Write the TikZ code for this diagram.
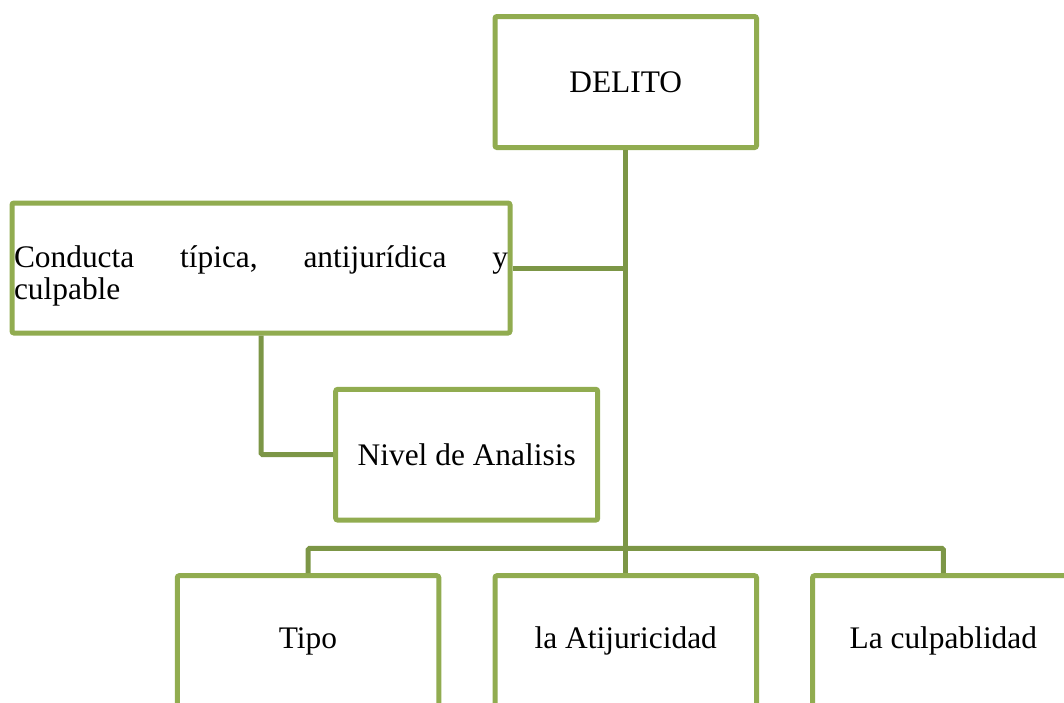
\documentclass[tikz,border=0pt]{standalone}
\usepackage{fontspec}
\setmainfont{Liberation Serif}
\usetikzlibrary{positioning}
\definecolor{boxgreen}{RGB}{145,172,80}
\definecolor{linkgreen}{RGB}{124,150,70}

\begin{document}
\begin{tikzpicture}[x=1pt,y=-1pt,
    box/.style={draw=boxgreen, line width=5pt, rounded corners=2pt, fill=white,
      inner sep=2pt, minimum width=261.5pt, minimum height=131pt,
      font=\fontsize{31.4}{31.6}\selectfont},
    link/.style={draw=linkgreen, line width=5pt, rounded corners=1.5pt}]
  \useasboundingbox (0,0) rectangle (1064,702);
  % boxes
  \node[box] (delito) at (625.75,82) {DELITO};
  \node[box, minimum width=498pt, minimum height=130pt, text width=494pt, align=left]
    (conducta) at (261,268) {\rule{0pt}{38pt}Conducta\hfill típica,\hfill antijurídica\hfill y\\culpable};
  \node[box, minimum width=262pt, minimum height=130.7pt] (nivel) at (466.7,454.7) {Nivel de Analisis};
  \node[box] (tipo) at (308,641.2) {Tipo};
  \node[box] (anti) at (625.75,641.2) {la Atijuricidad};
  \node[box] (culpa) at (943.3,641.2) {La culpablidad};
  % connectors
  \coordinate (bar) at (625.75,548.3);
  \draw[link] (delito.south) -- (anti.north);
  \draw[link] (conducta.east) -- (conducta.east -| delito.south);
  \draw[link] (conducta.south) |- (nivel.west);
  \draw[link] (tipo.north) |- (bar) -| (culpa.north);
\end{tikzpicture}
\end{document}
